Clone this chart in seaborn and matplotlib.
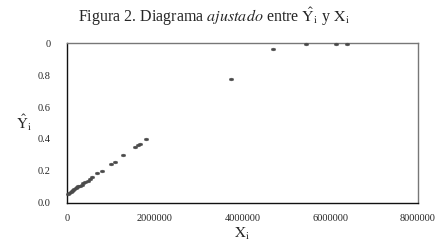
import matplotlib
matplotlib.use('Agg')
import matplotlib.pyplot as plt
import seaborn as sns
import pandas as pd
from matplotlib.markers import MarkerStyle
from matplotlib.transforms import Affine2D

sns.set_theme(style="white")
plt.rcParams['font.family'] = ['Liberation Serif', 'DejaVu Serif']
plt.rcParams['mathtext.fontset'] = 'stix'

x_values = [20000, 50000, 80000, 110000, 140000, 170000, 200000, 230000, 260000,
            290000, 330000, 370000, 420000, 470000, 520000, 580000, 675000, 789000,
            993000, 1090000, 1280000, 1545000, 1620000, 1660000, 1810000,
            3730000, 4700000, 5460000, 6130000, 6390000]
y_fitted = [0.055, 0.062, 0.068, 0.075, 0.080, 0.086, 0.092, 0.097, 0.103,
            0.108, 0.115, 0.122, 0.131, 0.140, 0.150, 0.161, 0.186, 0.202,
            0.242, 0.258, 0.300, 0.348, 0.362, 0.369, 0.400,
            0.773, 0.960, 0.993, 0.995, 0.995]
x_ticks = [0, 2000000, 4000000, 6000000, 8000000]
y_ticks = [0.0, 0.2, 0.4, 0.6, 0.8, 1.0]
y_tick_labels = ['0.0', '0.2', '0.4', '0.6', '0.8', '0']

df = pd.DataFrame({'x': x_values, 'y': y_fitted})

fig = plt.figure(figsize=(4.44, 2.46), dpi=100)
ax = fig.add_axes([0.151, 0.175, 0.790, 0.650])

# flattened oval markers like the original
oval = MarkerStyle('o', transform=Affine2D().scale(1.6, 1.0))
sns.scatterplot(data=df, x='x', y='y', ax=ax, marker=oval, s=4,
                color='#4a4a4a', edgecolor='#4a4a4a', linewidth=0.3,
                legend=False, clip_on=False, zorder=3)

ax.set_xlim(0, 8000000)
ax.set_ylim(0, 1.0)
ax.set_xticks(x_ticks)
ax.set_xticklabels([str(t) for t in x_ticks], fontsize=7.5)
ax.set_yticks(y_ticks)
ax.set_yticklabels(y_tick_labels, fontsize=7.5)
ax.tick_params(axis='y', direction='out', length=5, width=0.8, color='#222222', pad=7)
ax.tick_params(axis='x', direction='inout', length=6, width=0.8, color='#222222', pad=5)

for side in ['left', 'bottom']:
    ax.spines[side].set_color('#111111')
    ax.spines[side].set_linewidth(1.0)
for side in ['top', 'right']:
    ax.spines[side].set_color('#777777')
    ax.spines[side].set_linewidth(1.0)

ax.set_xlabel(r'$\mathrm{X}_\mathrm{i}$', fontsize=11, labelpad=2)
ax.set_ylabel(r'$\hat{\mathrm{Y}}_\mathrm{i}$', fontsize=11, rotation=0, labelpad=10, va='center')

fig.text(0.481, 0.93, r'Figura 2. Diagrama $\it{ajustado}$ entre $\hat{\mathrm{Y}}_\mathrm{i}$ y $\mathrm{X}_\mathrm{i}$',
         ha='center', va='center', fontsize=11.5)

plt.savefig('out.png', dpi=100, facecolor='white')
plt.close()
